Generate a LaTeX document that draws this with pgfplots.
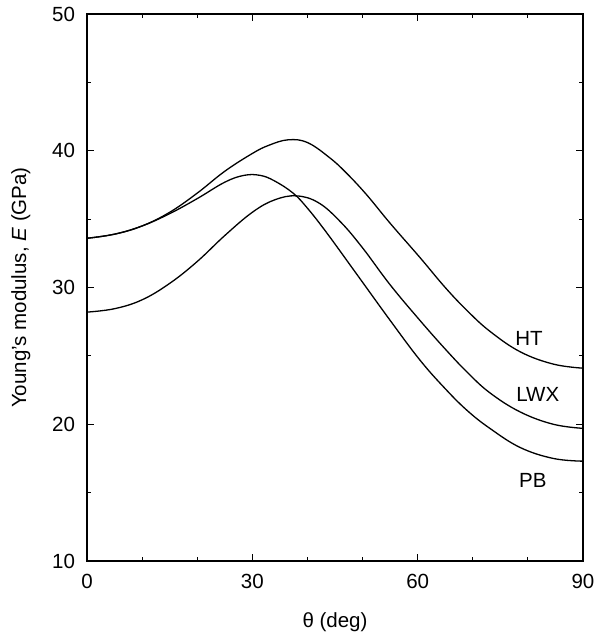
\documentclass[border=0pt]{standalone}
\usepackage{fontspec}
\setmainfont{Liberation Sans}
\usepackage{pgfplots}
\pgfplotsset{compat=1.18}

\begin{document}
\begin{tikzpicture}
  \fontsize{20.5}{24}\selectfont
  \path[use as bounding box] (-87pt,-72pt) rectangle (520pt,561pt);
  \begin{axis}[
      scale only axis,
      width=496pt, height=547pt,
      at={(0,0)}, anchor=south west,
      xmin=0, xmax=90, ymin=10, ymax=50,
      xtick={0,30,60,90}, ytick={10,20,30,40,50},
      minor x tick num=2, minor y tick num=1,
      tick align=inside,
      major tick length=7pt, minor tick length=4pt,
      every tick/.style={black, line width=0.9pt},
      axis line style={line width=1.1pt},
      /pgf/number format/assume math mode=true,
      ticklabel style={font=\fontsize{20.5}{24}\selectfont},
      label style={font=\fontsize{20.5}{24}\selectfont},
      xticklabel style={yshift=-6pt},
      yticklabel style={xshift=-5pt},
      xlabel={θ (deg)},
      ylabel={Young's modulus, \textit{E} (GPa)},
      xlabel style={yshift=-10pt},
      ylabel style={yshift=8pt},
    ]
    % HT
    \addplot[black, line width=1.3pt, smooth, tension=0.65] coordinates {
      (0,33.6)(5,33.9)(10,34.5)(15,35.5)(20,36.9)(25,38.5)(30,39.8)(33,40.4)
      (36.5,40.8)(40,40.6)(44,39.5)(47,38.4)(50.7,36.8)(55,34.7)
      (60.4,32.2)(65,30.0)(69,28.3)(73.1,26.8)(78.6,25.3)(84.6,24.4)(90,24.1)
    };
    % lower at right
    \addplot[black, line width=1.3pt, smooth, tension=0.65] coordinates {
      (0,33.6)(5,33.9)(10,34.5)(15,35.4)(20,36.5)(25,37.7)(28.5,38.2)
      (31.4,38.2)(34,37.8)(37.4,36.9)(40,35.8)(43.5,34.0)(48.9,31.0)(55,27.6)
      (60.4,24.7)(65,22.6)(69,21.0)(73.1,19.7)(78.6,18.3)(84.6,17.5)(90,17.3)
    };
    % starts at 28
    \addplot[black, line width=1.3pt, smooth, tension=0.65] coordinates {
      (0,28.2)(5,28.45)(10,29.1)(15,30.3)(20,31.9)(25,33.8)(30,35.5)
      (34,36.4)(38,36.7)(42,36.2)(46,34.8)(50,32.9)(55,30.2)
      (60.4,27.6)(65,25.5)(69,23.8)(73.1,22.3)(78.6,20.9)(84.6,20.0)(90,19.7)
    };
    \node at (axis cs:80.2,26.3) {HT};
    \node at (axis cs:81.8,22.2) {LWX};
    \node at (axis cs:80.9,15.9) {PB};
  \end{axis}
\end{tikzpicture}
\end{document}
